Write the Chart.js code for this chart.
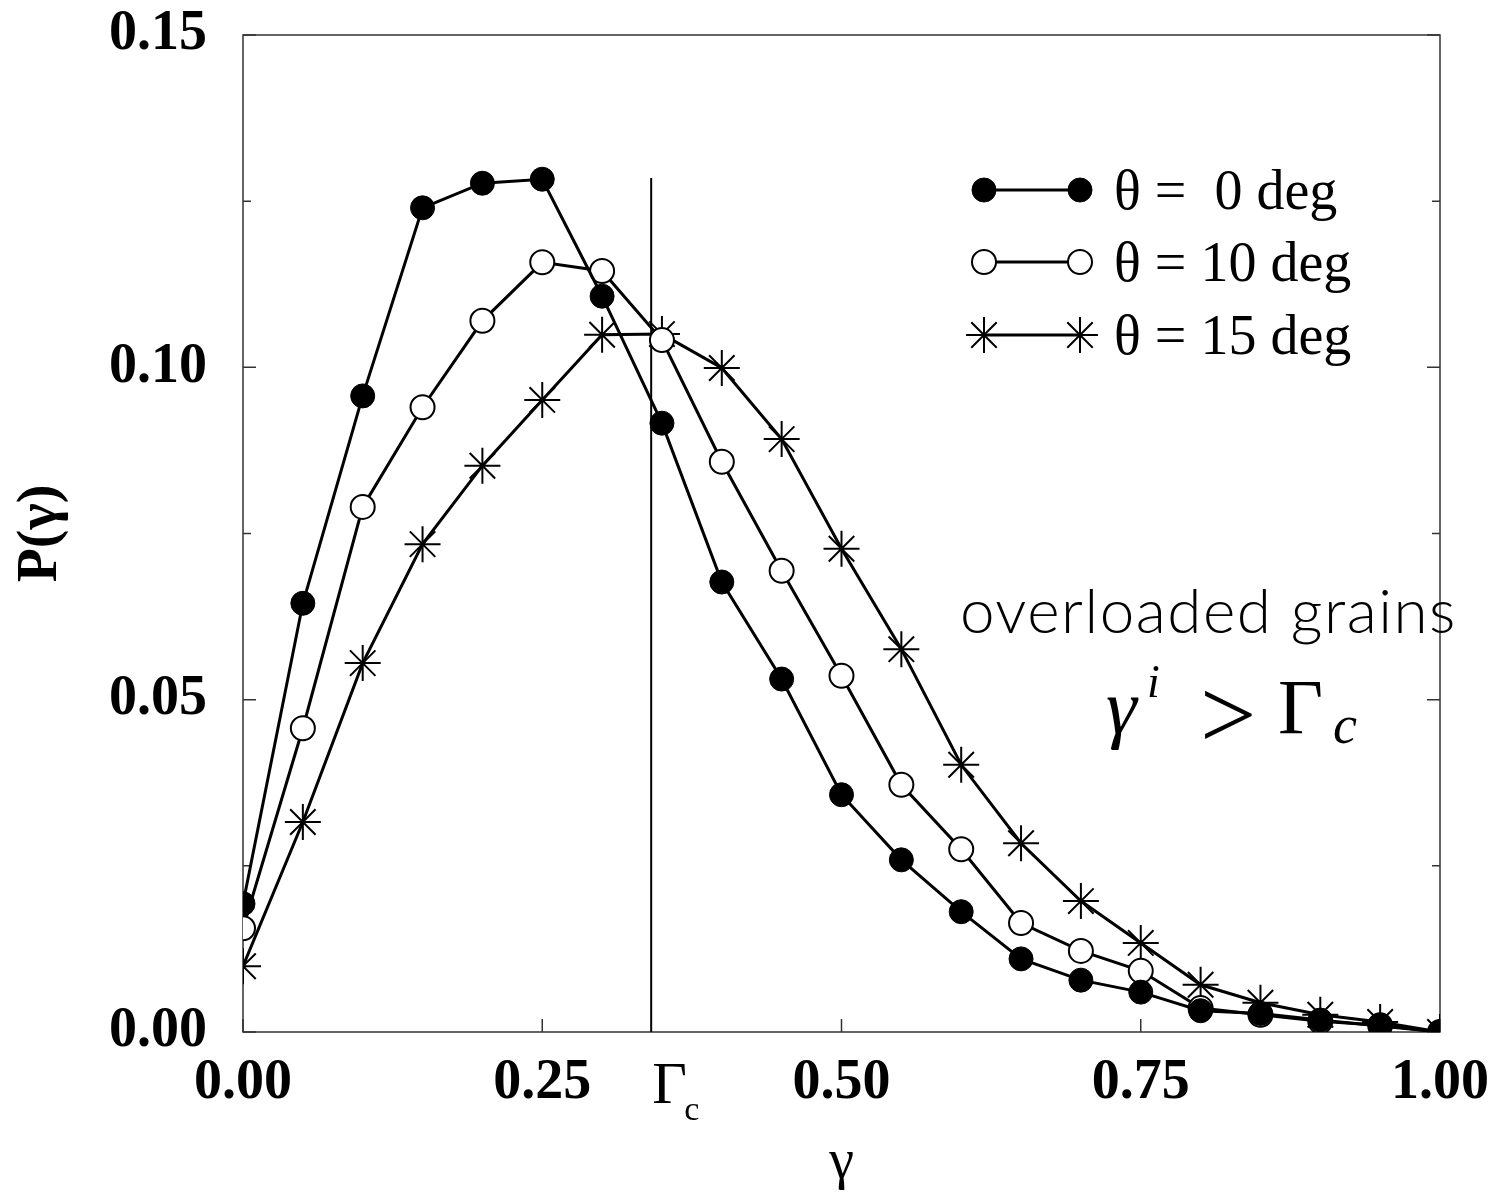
<!DOCTYPE html>
<html>
<head>
<meta charset="utf-8">
<script src="https://cdn.jsdelivr.net/npm/chart.js@4.4.0/dist/chart.umd.min.js"></script>
<style>
  html, body { margin: 0; padding: 0; background: #fff; }
  canvas { display: block; }
</style>
</head>
<body>
<canvas id="canvas" width="1499" height="1197"></canvas>
<script>
// x values (gamma) shared by all three series
let gamma = [0, 0.05, 0.1, 0.15, 0.2, 0.25, 0.3, 0.35, 0.4, 0.45, 0.5,
             0.55, 0.6, 0.65, 0.7, 0.75, 0.8, 0.85, 0.9, 0.95, 1.0];
// P(gamma) for theta = 0, 10, 15 deg
let p0  = [0.0193, 0.0645, 0.0957, 0.1240, 0.1277, 0.1283, 0.1107, 0.0916, 0.0677, 0.0531, 0.0357,
           0.0259, 0.0181, 0.0110, 0.0078, 0.0060, 0.0032, 0.0028, 0.0018, 0.0009, 0.0];
let p10 = [0.0156, 0.0457, 0.0790, 0.0940, 0.1070, 0.1158, 0.1145, 0.1041, 0.0858, 0.0694, 0.0536,
           0.0372, 0.0275, 0.0164, 0.0122, 0.0092, 0.0036, 0.0026, 0.0016, 0.0010, 0.0];
let p15 = [0.0099, 0.0316, 0.0555, 0.0734, 0.0852, 0.0951, 0.1049, 0.1050, 0.0999, 0.0892, 0.0727,
           0.0576, 0.0402, 0.0284, 0.0197, 0.0134, 0.0071, 0.0044, 0.0026, 0.0015, 0.0];
let seriesLabels = ['\u03b8 =  0 deg', '\u03b8 = 10 deg', '\u03b8 = 15 deg'];

// critical value marked by the vertical line
let gammaC = 0.341;
let gammaCLine = [0, 0.1285];

// tick labels
let xTicks = [0, 0.25, 0.5, 0.75, 1.0];
let yTicks = [0, 0.05, 0.10, 0.15];
let yMinor = [0.025, 0.075, 0.125];

let serif = '"Liberation Serif", "Times New Roman", serif';

function pts(ys) {
    return gamma.map((g, i) => ({ x: g, y: ys[i] }));
}

// drop the label overflow padding so the plot box sits where the layout padding says
function noOverflow(s) {
    s.paddingTop = 0; s.paddingBottom = 0;
    s.paddingLeft = 0; s.paddingRight = 0;
}

// frame and inward ticks, drawn under the data
const framePlugin = {
    id: 'frame',
    beforeDatasetsDraw(chart) {
        const { ctx, chartArea: a, scales: { x, y } } = chart;
        ctx.save();
        ctx.strokeStyle = '#333';
        ctx.lineWidth = 1.5;
        ctx.strokeRect(a.left, a.top, a.right - a.left, a.bottom - a.top);
        ctx.beginPath();
        yTicks.concat(yMinor).forEach(v => {
            const py = y.getPixelForValue(v);
            const len = yMinor.includes(v) ? 8 : 13;
            ctx.moveTo(a.left, py); ctx.lineTo(a.left + len, py);
            ctx.moveTo(a.right, py); ctx.lineTo(a.right - len, py);
        });
        xTicks.forEach(v => {
            const px = x.getPixelForValue(v);
            ctx.moveTo(px, a.bottom); ctx.lineTo(px, a.bottom - 13);
        });
        ctx.stroke();
        ctx.restore();
    }
};

// legend, Gamma_c label and the text annotations
const notesPlugin = {
    id: 'notes',
    afterDraw(chart) {
        const { ctx, chartArea: a, scales: { x, y } } = chart;
        ctx.save();
        ctx.fillStyle = '#000';

        // Gamma_c tick label
        const gx = x.getPixelForValue(gammaC);
        ctx.textBaseline = 'alphabetic';
        ctx.textAlign = 'left';
        ctx.font = '60px ' + serif;
        ctx.fillText('\u0393', gx + 1, 1103);
        ctx.font = '34px ' + serif;
        ctx.fillText('c', gx + 33, 1120);

        // legend
        const rows = [190, 262, 335];
        chart.data.datasets.slice(0, 3).forEach((ds, i) => {
            const ry = rows[i];
            ctx.strokeStyle = '#000';
            ctx.lineWidth = 3;
            ctx.beginPath();
            ctx.moveTo(984, ry); ctx.lineTo(1080, ry);
            ctx.stroke();
            [984, 1080].forEach(mx => {
                ctx.fillStyle = ds.pointBackgroundColor;
                ctx.strokeStyle = '#000';
                ctx.lineWidth = ds.pointBorderWidth;
                Chart.helpers.drawPoint(ctx, {
                    pointStyle: ds.pointStyle, radius: ds.pointRadius,
                    rotation: 0, borderWidth: ds.pointBorderWidth
                }, mx, ry);
            });
            ctx.fillStyle = '#000';
            ctx.font = '56px ' + serif;
            ctx.textBaseline = 'alphabetic';
            ctx.fillText(ds.label, 1114, ry + 19);
        });

        // annotation
        ctx.font = '300 62px Lato, "Open Sans", sans-serif';
        ctx.letterSpacing = '1.5px';
        ctx.fillText('overloaded grains', 960, 633);
        ctx.letterSpacing = '0px';

        ctx.font = 'italic 78px ' + serif;
        ctx.fillText('\u03b3', 1106, 733);
        ctx.font = 'italic 46px ' + serif;
        ctx.fillText('i', 1147, 697);
        ctx.font = '100px ' + serif;
        ctx.fillText('>', 1200, 748);
        ctx.font = '78px ' + serif;
        ctx.fillText('\u0393', 1278, 733);
        ctx.font = 'italic 54px ' + serif;
        ctx.fillText('c', 1333, 743);
        ctx.restore();
    }
};

let canvas = document.getElementById('canvas');

new Chart(canvas, {
    type: 'scatter',
    data: {
        datasets: [{
            label: seriesLabels[0],
            data: pts(p0),
            showLine: true,
            borderColor: '#000',
            borderWidth: 3,
            pointStyle: 'circle',
            pointRadius: 12,
            pointBackgroundColor: '#000',
            pointBorderColor: '#000',
            pointBorderWidth: 1
        }, {
            label: seriesLabels[1],
            data: pts(p10),
            showLine: true,
            borderColor: '#000',
            borderWidth: 3,
            pointStyle: 'circle',
            pointRadius: 12,
            pointBackgroundColor: '#fff',
            pointBorderColor: '#000',
            pointBorderWidth: 2
        }, {
            label: seriesLabels[2],
            data: pts(p15),
            showLine: true,
            borderColor: '#000',
            borderWidth: 3,
            pointStyle: 'star',
            pointRadius: 18,
            pointBackgroundColor: '#000',
            pointBorderColor: '#000',
            pointBorderWidth: 2
        }, {
            label: 'gammaC',
            data: gammaCLine.map(v => ({ x: gammaC, y: v })),
            showLine: true,
            borderColor: '#000',
            borderWidth: 2,
            pointRadius: 0
        }]
    },
    options: {
        responsive: false,
        animation: false,
        events: [],
        layout: { padding: { top: 35, right: 59, left: 0, bottom: 0 } },
        plugins: { legend: { display: false }, tooltip: { enabled: false } },
        scales: {
            x: {
                type: 'linear',
                min: 0, max: 1,
                afterBuildTicks: s => { s.ticks = xTicks.map(v => ({ value: v })); },
                afterFit: s => { s.height = 165; noOverflow(s); },
                grid: { display: false, drawTicks: false },
                border: { display: false },
                ticks: {
                    padding: 18,
                    color: '#000',
                    maxRotation: 0,
                    autoSkip: false,
                    font: { family: serif, size: 56, weight: 'bold' },
                    callback: v => v.toFixed(2)
                },
                title: {
                    display: true,
                    text: '\u03b3',
                    color: '#000',
                    padding: { top: 0, bottom: 0 },
                    font: { family: serif, size: 56 }
                }
            },
            y: {
                type: 'linear',
                min: 0, max: 0.15,
                afterBuildTicks: s => { s.ticks = yTicks.map(v => ({ value: v })); },
                afterFit: s => { s.width = 243; noOverflow(s); },
                grid: { display: false, drawTicks: false },
                border: { display: false },
                ticks: {
                    padding: 36,
                    color: '#000',
                    autoSkip: false,
                    font: { family: serif, size: 56, weight: 'bold' },
                    callback: v => v.toFixed(2)
                },
                title: {
                    display: true,
                    text: 'P(\u03b3)',
                    color: '#000',
                    padding: { top: 8, bottom: 0 },
                    font: { family: serif, size: 56, weight: 'bold' }
                }
            }
        }
    },
    plugins: [framePlugin, notesPlugin]
});
</script>
</body>
</html>
